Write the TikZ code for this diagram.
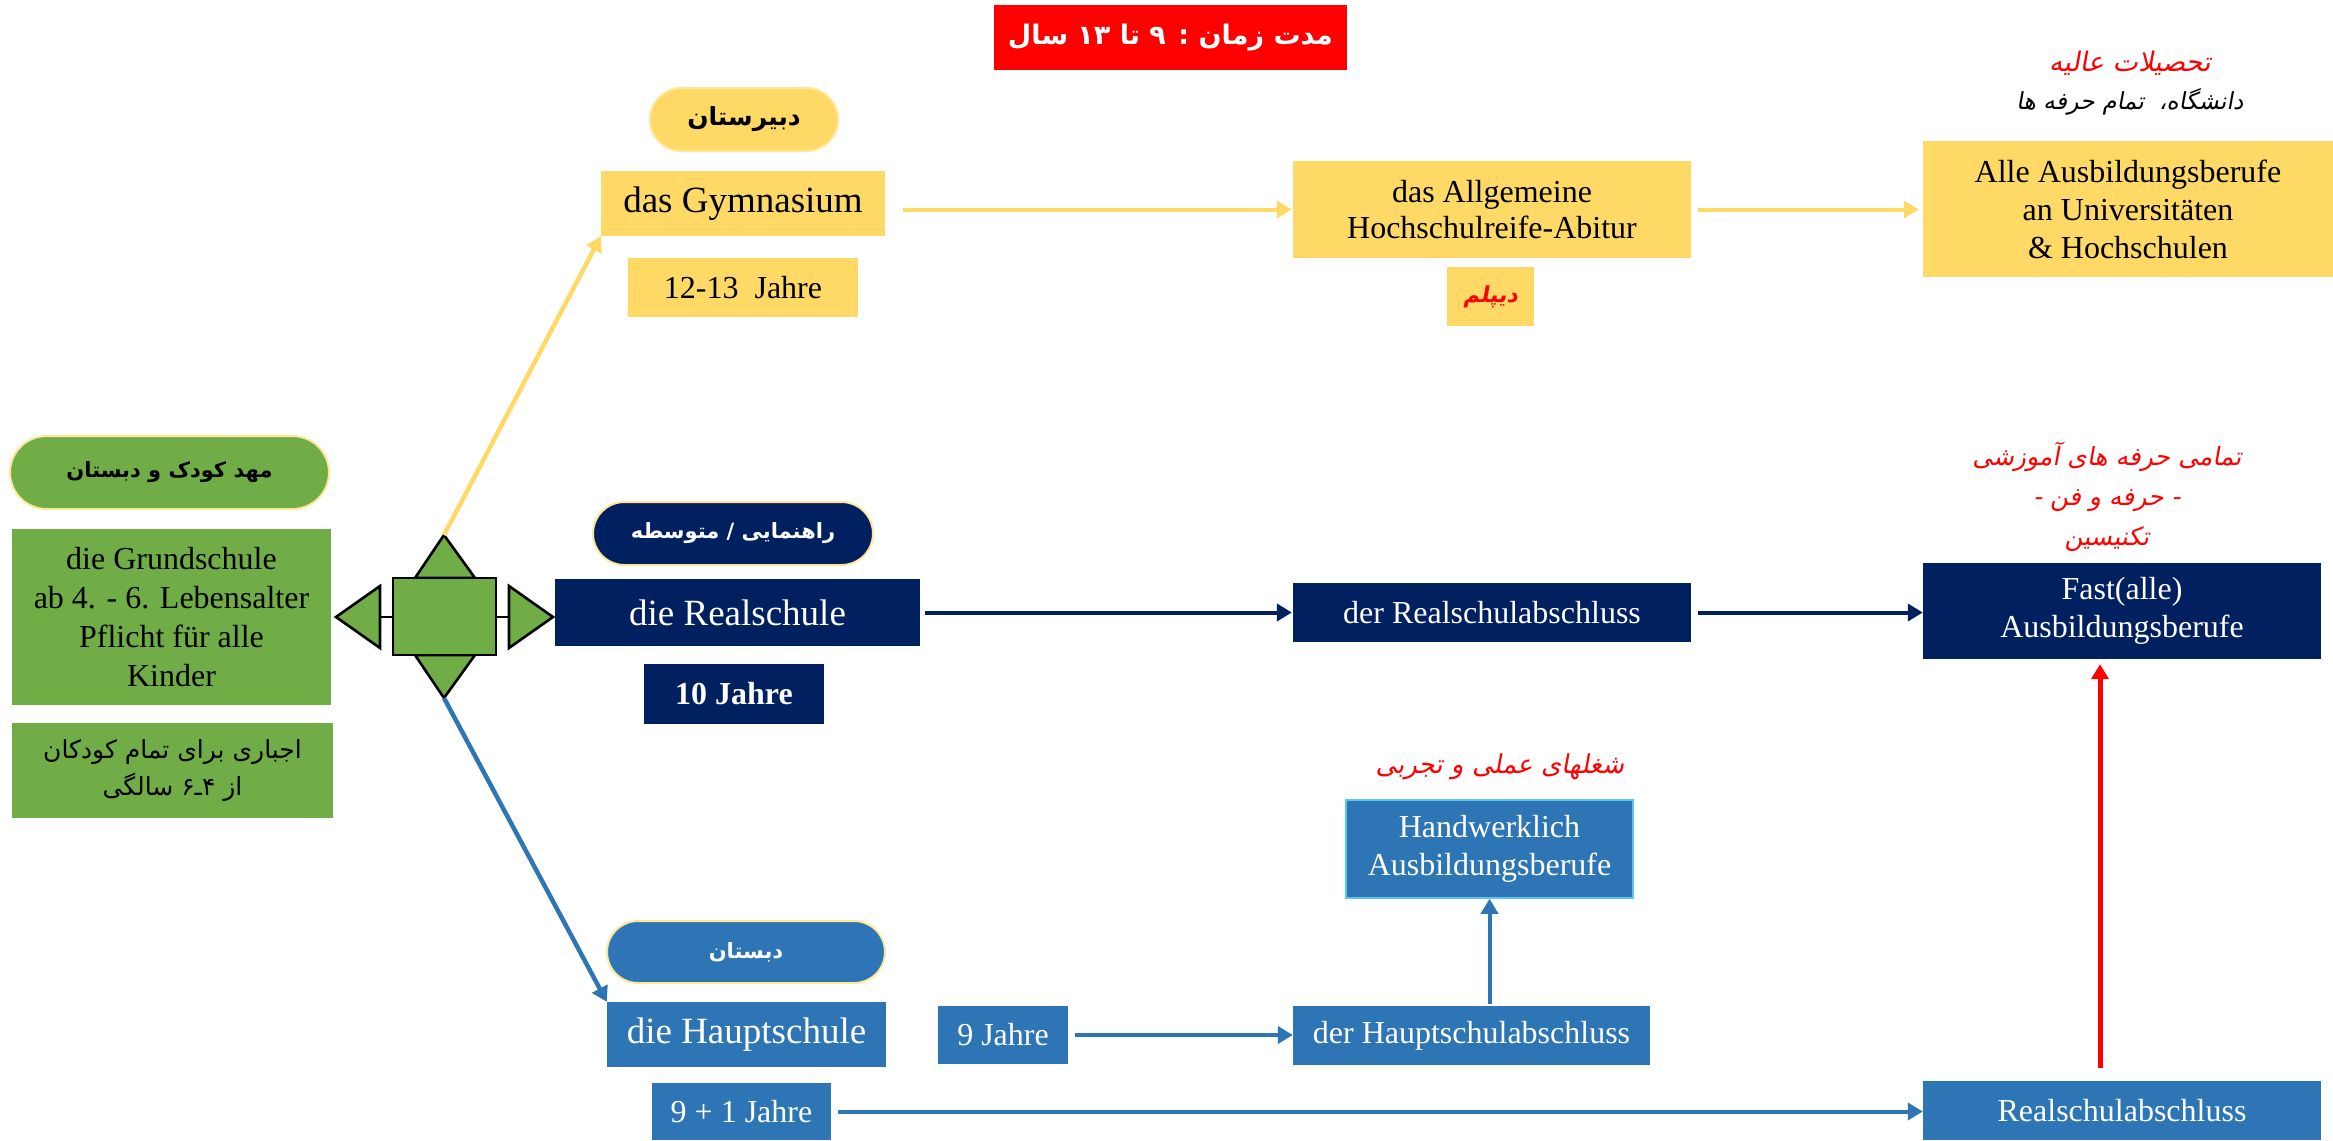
\documentclass[tikz,border=0pt]{standalone}
\usepackage{fontspec}
\setmainfont{Liberation Serif}
\newfontfamily\fa[Script=Arabic]{DejaVu Sans}
\newfontfamily\fasl[Script=Arabic,FakeSlant=0.18]{DejaVu Sans}
\TeXXeTstate=1
\usetikzlibrary{arrows.meta,calc,shapes.misc}

\definecolor{yel}{HTML}{FFD966}
\definecolor{navy}{HTML}{002060}
\definecolor{blu}{HTML}{2E75B6}
\definecolor{grn}{HTML}{70AD47}
\definecolor{pillrim}{HTML}{FFE699}
\definecolor{skyrim}{HTML}{5BC5F2}

\newcommand\rtl[1]{\beginR #1\endR}

\tikzset{
  box/.style={rectangle, inner sep=0pt, align=center,
              font=\fontsize{32}{38}\selectfont},
  bigbox/.style={box, font=\fontsize{37}{44}\selectfont},
  ybox/.style={fill=yel, text=black},
  nbox/.style={fill=navy, text=white},
  bbox/.style={fill=blu, text=white},
  gbox/.style={fill=grn, text=black},
  pill/.style={rounded rectangle, draw=pillrim, line width=2pt, inner sep=0pt,
               font=\fontsize{22}{26}\selectfont\fa\bfseries},
  note/.style={inner sep=0pt, align=center, font=\fontsize{26}{40}\selectfont\fasl},
  link/.style={line width=4pt, -{Triangle[length=15pt,width=17pt]}},
  hub/.style={fill=grn, draw=black, line width=2.6pt, line join=miter},
}

\begin{document}
\begin{tikzpicture}[x=1pt, y=-1pt]
\useasboundingbox (0,0) rectangle (2333,1140);

% heading
\node[rectangle, fill=red, text=white, minimum width=353pt, minimum height=65pt,
      inner sep=0pt, font=\fontsize{27}{32}\selectfont\fa\bfseries]
  (title) at (1170.5,37.5) {\rtl{مدت زمان : ۹ تا \beginL ۱۳\endL{} سال}};

% left column: kindergarten and primary school
\node[pill, fill=grn, text=black, minimum width=319pt, minimum height=73pt,
      font=\fontsize{21}{26}\selectfont\fa\bfseries]
  (kita) at (169.5,472.5) {\rtl{مهد کودک و دبستان}};
\node[box, gbox, minimum width=319pt, minimum height=176pt,
      font=\fontsize{32}{39}\selectfont]
  (grund) at (171.5,617) {die Grundschule\\ab 4. - 6. Lebensalter\\Pflicht für alle\\Kinder};
\node[box, gbox, minimum width=321pt, minimum height=95pt,
      font=\fontsize{25}{37}\selectfont\fa]
  (pflicht) at (172.5,770.5) {\rtl{اجباری برای تمام کودکان}\\\rtl{از ۴ـ۶ سالگی}};

% four-way junction
\draw[hub] (415,578) -- (444,535) -- (475,578) -- cycle;
\draw[hub] (415,655) -- (444,698) -- (475,655) -- cycle;
\draw[black, line width=2.6pt] (380,617) -- (393,617) (496,617) -- (509,617);
\draw[hub] (509,586) -- (553,617) -- (509,648) -- cycle;
\draw[hub] (380,586) -- (336,617) -- (380,648) -- cycle;
\draw[hub] (393,578) rectangle (496,655);
\coordinate (hubtop) at (444,535);
\coordinate (hubbot) at (444,698);

% upper track: Gymnasium
\node[pill, fill=yel, text=black, minimum width=188pt, minimum height=63pt,
      font=\fontsize{25}{28}\selectfont\fa\bfseries]
  (gympill) at (744,119.5) {\rtl{دبیرستان}};
\node[bigbox, ybox, minimum width=284pt, minimum height=65pt]
  (gym) at (743,203.5) {das Gymnasium};
\node[box, ybox, minimum width=230pt, minimum height=59pt]
  (gymyears) at (743,287.5) {12-13\ \ Jahre};
\node[box, ybox, minimum width=398pt, minimum height=97pt,
      font=\fontsize{32}{36.5}\selectfont]
  (abitur) at (1492,209.5) {das Allgemeine\\Hochschulreife-Abitur};
\node[box, ybox, minimum width=87pt, minimum height=59pt, text=red,
      font=\fontsize{22}{26}\selectfont\fasl\bfseries]
  (diplom) at (1490.5,296.5) {\rtl{دیپلم}};
\node[box, ybox, minimum width=410pt, minimum height=136pt]
  (uni) at (2128,209) {Alle Ausbildungsberufe\\an Universitäten\\\& Hochschulen};
\node[note, text=red, font=\fontsize{27}{30}\selectfont\fasl]
  (unihead) at (2130,63) {\rtl{تحصیلات عالیه}};
\node[note, text=black, font=\fontsize{23.5}{28}\selectfont\fasl]
  (unisub) at (2130,102) {\rtl{دانشگاه،\ \ تمام حرفه ها}};

% middle track: Realschule
\node[pill, fill=navy, text=white, minimum width=280pt, minimum height=63pt,
      font=\fontsize{21}{26}\selectfont\fa\bfseries]
  (realpill) at (733,533.5) {\rtl{راهنمایی / متوسطه}};
\node[bigbox, nbox, minimum width=365pt, minimum height=67pt]
  (real) at (737.5,612.5) {die Realschule};
\node[box, nbox, minimum width=180pt, minimum height=60pt,
      font=\fontsize{32}{38}\selectfont\bfseries]
  (realyears) at (734,694) {10 Jahre};
\node[box, nbox, minimum width=398pt, minimum height=59pt]
  (realab) at (1492,612.5) {der Realschulabschluss};
\node[box, nbox, minimum width=398pt, minimum height=96pt]
  (fast) at (2122,611) {Fast(alle)\\Ausbildungsberufe};
\node[note, text=red, font=\fontsize{25}{40}\selectfont\fasl]
  (fasthead) at (2107,497) {\rtl{تمامی حرفه های آموزشی}\\\rtl{- حرفه و فن -}\\\rtl{تکنیسین}};

% lower track: Hauptschule
\node[pill, fill=blu, text=white, minimum width=278pt, minimum height=62pt,
      font=\fontsize{21}{26}\selectfont\fa\bfseries]
  (hauptpill) at (746,952) {\rtl{دبستان}};
\node[bigbox, bbox, minimum width=279pt, minimum height=65pt]
  (haupt) at (746.5,1034.5) {die Hauptschule};
\node[box, bbox, minimum width=130pt, minimum height=58pt]
  (nine) at (1003,1035) {9 Jahre};
\node[box, bbox, minimum width=179pt, minimum height=57pt]
  (ninetwo) at (741.5,1111.5) {9 + 1 Jahre};
\node[box, bbox, minimum width=357pt, minimum height=59pt]
  (hauptab) at (1471.5,1035.5) {der Hauptschulabschluss};
\node[box, bbox, draw=skyrim, line width=1.5pt, minimum width=287pt, minimum height=98pt]
  (hand) at (1489.5,849) {Handwerklich\\Ausbildungsberufe};
\node[note, text=red] (handhead) at (1500,767) {\rtl{شغلهای عملی و تجربی}};
\node[box, bbox, minimum width=398pt, minimum height=59pt]
  (rab) at (2122,1110.5) {Realschulabschluss};

% connectors
\draw[link, yel, line width=4.5pt] (hubtop) -- (gym.south west);
\draw[link, blu, line width=4.5pt] (hubbot) -- (haupt.north west);

\draw[link, yel, shorten <=18pt, shorten >=1pt] (gym.east |- abitur.west) -- (abitur.west);
\draw[link, yel, shorten <=7pt, shorten >=4pt] (abitur.east) -- (uni.west |- abitur.east);

\draw[link, navy, shorten <=5pt, shorten >=1pt] (real.east) -- (realab.west);
\draw[link, navy, shorten <=7pt] (realab.east) -- (fast.west |- realab.east);

\draw[link, blu, shorten <=7pt] (nine.east) -- (hauptab.west |- nine.east);
\draw[link, blu, shorten <=2pt] (hauptab.north -| hand.south) -- (hand.south);
\draw[link, blu, shorten <=7pt] (ninetwo.east) -- (rab.west |- ninetwo.east);

\coordinate (redx) at (2100,0);
\draw[link, red, line width=5pt, shorten <=13pt, shorten >=5pt]
  (rab.north -| redx) -- (fast.south -| redx);
\end{tikzpicture}
\end{document}
